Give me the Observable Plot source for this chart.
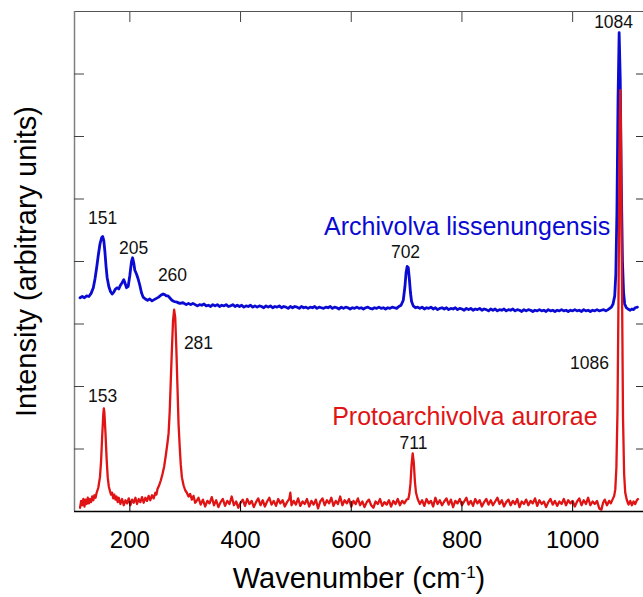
<!DOCTYPE html>
<html>
<head>
<meta charset="utf-8">
<script src="https://cdn.jsdelivr.net/npm/d3@7"></script>
<script src="https://cdn.jsdelivr.net/npm/@observablehq/plot@0.6"></script>
<style>
  html, body { margin: 0; padding: 0; background: #fff; }
  #chart svg { display: block; }
</style>
</head>
<body>
<div id="chart"></div>
<script>
// Archivolva lissenungensis spectrum: [wavenumber, intensity]
const blueSpectrum = [
  [110,3.42],[114,3.44],[118,3.42],[122,3.45],[126,3.44],[130,3.49],[134,3.58],[137,3.72],[140,3.9],[143,4.1],
  [146,4.28],[149,4.38],[151,4.40],[153,4.33],[155,4.15],[157,3.92],[159,3.74],[162,3.6],[165,3.52],[168,3.48],
  [171,3.51],[174,3.56],[177,3.58],[180,3.56],[183,3.62],[186,3.66],[189,3.71],[191,3.66],[194,3.58],[197,3.6],
  [200,3.78],[203,4.0],[205,4.06],[207,3.98],[209,3.86],[212,3.8],[215,3.72],[218,3.62],[221,3.5],[224,3.43],
  [228,3.4],[232,3.38],[236,3.4],[240,3.37],[244,3.39],[248,3.41],[252,3.43],[256,3.46],[260,3.48],[263,3.47],
  [266,3.45],[269,3.45],[272,3.42],[276,3.38],[280,3.36],[285,3.35],[290,3.33],[296,3.34],[302,3.31],[306,3.33],
  [310,3.31],[314,3.33],[318,3.31],[322,3.29],[326,3.31],[330,3.30],[334,3.32],[338,3.29],[342,3.30],[346,3.28],
  [350,3.31],[354,3.29],[358,3.31],[362,3.28],[366,3.30],[370,3.29],[374,3.31],[378,3.28],[382,3.29],[386,3.31],
  [390,3.28],[394,3.30],[398,3.28],[402,3.30],[406,3.27],[410,3.29],[414,3.28],[418,3.30],[422,3.27],[426,3.29],
  [430,3.27],[434,3.29],[438,3.28],[442,3.26],[446,3.29],[450,3.27],[454,3.29],[458,3.26],[462,3.28],[466,3.27],
  [470,3.29],[474,3.26],[478,3.28],[482,3.27],[486,3.25],[490,3.28],[494,3.26],[498,3.28],[502,3.27],[506,3.25],
  [510,3.28],[514,3.26],[518,3.27],[522,3.25],[526,3.27],[530,3.26],[534,3.28],[538,3.25],[542,3.27],[546,3.26],
  [550,3.25],[554,3.27],[558,3.26],[562,3.28],[566,3.25],[570,3.27],[574,3.26],[578,3.24],[582,3.27],[586,3.25],
  [590,3.27],[594,3.26],[598,3.24],[602,3.26],[606,3.25],[610,3.27],[614,3.25],[618,3.26],[622,3.24],[626,3.26],
  [630,3.27],[634,3.25],[638,3.24],[642,3.26],[646,3.25],[650,3.27],[654,3.25],[658,3.26],[662,3.24],[666,3.26],
  [670,3.25],[674,3.27],[678,3.26],[682,3.25],[686,3.28],[690,3.30],[694,3.38],[697,3.6],[699,3.82],[701,3.92],
  [703,3.9],[705,3.72],[707,3.5],[709,3.36],[712,3.29],[716,3.26],[720,3.27],[724,3.25],[728,3.27],[732,3.24],
  [736,3.26],[740,3.25],[744,3.27],[748,3.24],[752,3.26],[756,3.23],[760,3.25],[764,3.26],[768,3.24],[772,3.26],
  [776,3.23],[780,3.25],[784,3.24],[788,3.26],[792,3.23],[796,3.25],[800,3.24],[804,3.22],[808,3.25],[812,3.23],
  [816,3.25],[820,3.22],[824,3.24],[828,3.23],[832,3.25],[836,3.22],[840,3.24],[844,3.23],[848,3.21],[852,3.24],
  [856,3.22],[860,3.24],[864,3.21],[868,3.23],[872,3.22],[876,3.24],[880,3.21],[884,3.23],[888,3.22],[892,3.24],
  [896,3.21],[900,3.23],[904,3.22],[908,3.20],[912,3.23],[916,3.21],[920,3.23],[924,3.22],[928,3.20],[932,3.22],
  [936,3.21],[940,3.23],[944,3.21],[948,3.22],[952,3.20],[956,3.23],[960,3.21],[964,3.22],[968,3.20],[972,3.22],
  [976,3.21],[980,3.23],[984,3.21],[988,3.22],[992,3.20],[996,3.22],[1000,3.21],[1004,3.23],[1008,3.21],[1012,3.22],
  [1016,3.20],[1020,3.23],[1024,3.21],[1028,3.22],[1032,3.20],[1036,3.22],[1040,3.21],[1044,3.23],[1048,3.21],[1052,3.22],
  [1056,3.23],[1060,3.21],[1064,3.23],[1067,3.25],[1070,3.27],[1073,3.32],[1076,3.45],[1078,3.8],[1080,4.8],[1082,6.6],
  [1084,7.66],[1086,6.9],[1088,5.2],[1090,4.0],[1092,3.5],[1094,3.32],[1097,3.26],[1100,3.24],[1104,3.22],[1107,3.24],
  [1110,3.23],[1113,3.26],[1117,3.27]
];

// Protoarchivolva aurorae spectrum: [wavenumber, intensity]
const redSpectrum = [
  [110,0.06],[112,0.17],[114,0.1],[116,0.2],[118,0.08],[120,0.19],[122,0.12],[124,0.22],[126,0.13],[128,0.2],
  [130,0.15],[132,0.24],[134,0.18],[136,0.26],[138,0.22],[140,0.3],[143,0.38],[146,0.55],[148,0.8],[150,1.2],
  [152,1.55],[153,1.65],[154,1.58],[156,1.25],[158,0.85],[160,0.55],[162,0.4],[164,0.33],[166,0.27],[168,0.3],
  [170,0.21],[172,0.27],[174,0.19],[176,0.24],[178,0.15],[180,0.22],[183,0.12],[186,0.2],[189,0.1],[192,0.18],
  [195,0.13],[198,0.21],[201,0.1],[204,0.19],[207,0.14],[210,0.22],[213,0.12],[216,0.2],[219,0.15],[222,0.23],
  [225,0.14],[228,0.22],[231,0.17],[234,0.25],[237,0.18],[240,0.26],[243,0.21],[246,0.3],[248,0.27],[250,0.36],
  [253,0.42],[256,0.5],[259,0.6],[262,0.72],[265,0.9],[268,1.1],[270,1.25],[272,1.6],[274,2.1],[276,2.6],
  [278,3.05],[280,3.23],[282,3.1],[284,2.6],[286,2.0],[288,1.4],[290,1.05],[292,0.75],[294,0.55],[297,0.42],
  [300,0.34],[303,0.3],[306,0.24],[309,0.28],[312,0.19],[315,0.25],[318,0.14],[320,0.16],[324,0.22],[328,0.11],
  [332,0.19],[336,0.08],[340,0.17],[344,0.13],[348,0.23],[352,0.1],[356,0.18],[360,0.07],[364,0.15],[368,0.2],
  [372,0.09],[376,0.17],[380,0.12],[384,0.24],[388,0.1],[392,0.16],[396,0.06],[400,0.14],[404,0.19],[408,0.09],
  [412,0.2],[416,0.12],[420,0.17],[424,0.07],[428,0.15],[432,0.21],[436,0.1],[440,0.18],[444,0.08],[448,0.16],
  [452,0.22],[456,0.11],[460,0.17],[464,0.09],[468,0.2],[472,0.13],[476,0.18],[480,0.08],[484,0.15],[488,0.2],
  [490,0.3],[492,0.1],[496,0.17],[500,0.11],[504,0.21],[508,0.09],[512,0.16],[516,0.12],[520,0.2],[524,0.08],
  [528,0.17],[532,0.11],[536,0.19],[540,0.05],[544,0.16],[548,0.21],[552,0.1],[556,0.18],[560,0.13],[564,0.22],
  [568,0.09],[572,0.17],[576,0.12],[580,0.24],[584,0.1],[588,0.18],[592,0.13],[596,0.2],[600,0.08],[604,0.17],
  [608,0.12],[612,0.21],[616,0.1],[620,0.16],[624,0.07],[628,0.15],[632,0.19],[636,0.1],[640,0.06],[644,0.16],
  [648,0.12],[652,0.2],[656,0.09],[660,0.15],[664,0.11],[668,0.18],[672,0.08],[676,0.17],[680,0.12],[684,0.2],
  [688,0.1],[692,0.17],[696,0.13],[700,0.19],[703,0.2],[705,0.28],[707,0.45],[709,0.75],[711,0.93],[713,0.78],
  [715,0.48],[717,0.3],[720,0.2],[724,0.12],[728,0.18],[732,0.09],[736,0.2],[740,0.13],[744,0.17],[748,0.08],
  [752,0.22],[756,0.12],[760,0.18],[764,0.1],[768,0.16],[772,0.21],[776,0.11],[780,0.19],[784,0.07],[788,0.17],
  [792,0.13],[796,0.2],[800,0.1],[804,0.16],[808,0.22],[812,0.11],[816,0.17],[820,0.09],[824,0.2],[828,0.13],
  [832,0.18],[836,0.08],[840,0.15],[844,0.2],[848,0.11],[852,0.18],[856,0.1],[860,0.16],[864,0.22],[868,0.12],
  [872,0.18],[876,0.08],[880,0.15],[884,0.19],[888,0.1],[892,0.17],[896,0.12],[900,0.2],[904,0.07],[908,0.16],
  [912,0.12],[916,0.19],[920,0.1],[924,0.17],[928,0.13],[932,0.21],[936,0.09],[940,0.18],[944,0.12],[948,0.16],
  [952,0.07],[956,0.15],[960,0.2],[964,0.11],[968,0.17],[972,0.09],[976,0.16],[980,0.12],[984,0.2],[988,0.1],
  [992,0.18],[996,0.13],[1000,0.17],[1004,0.08],[1008,0.16],[1012,0.21],[1016,0.1],[1020,0.18],[1024,0.12],[1028,0.22],
  [1032,0.1],[1036,0.16],[1040,0.12],[1044,0.17],[1048,0.05],[1052,0.03],[1055,0.14],[1058,0.19],[1062,0.1],[1066,0.17],
  [1069,0.13],[1072,0.19],[1075,0.25],[1077,0.35],[1079,0.7],[1081,1.6],[1083,3.6],[1085,6.2],[1086,6.74],[1087,6.3],
  [1089,3.8],[1091,1.5],[1093,0.6],[1095,0.3],[1098,0.18],[1101,0.11],[1104,0.17],[1107,0.1],[1110,0.16],[1113,0.12],
  [1116,0.18],[1118,0.2]
];

// Peak annotations
const bluePeakLabels = ["151", "205", "260", "702", "1084"];
const bluePeakX = [150.7, 206.7, 277, 698, 1074];
const bluePeakY = [4.69, 4.21, 3.78, 4.14, 7.82];
const redPeakLabels = ["153", "281", "711", "1086"];
const redPeakX = [150.7, 324, 712.6, 1030.5];
const redPeakY = [1.84, 2.69, 1.09, 2.37];

// Species names
const speciesNames = ["Archivolva lissenungensis", "Protoarchivolva aurorae"];
const speciesX = [1068, 1045];
const speciesY = [4.55, 1.52];

// Axes
const xTicks = [200, 400, 600, 800, 1000];
const yTicks = [1, 2, 3, 4, 5, 6, 7];
const xDomain = [100, 1128];
const yDomain = [0, 8];
const xLabel = "Wavenumber (cm";
const xLabelSup = "-1";
const yLabel = "Intensity (arbitrary units)";

const blueColor = "#0a0ad2";
const redColor = "#e01414";

const blueRows = blueSpectrum.map(([x, y]) => ({x, y}));
const redRows = redSpectrum.map(([x, y]) => ({x, y}));
const bluePeaks = bluePeakLabels.map((t, i) => ({t, x: bluePeakX[i], y: bluePeakY[i]}));
const redPeaks = redPeakLabels.map((t, i) => ({t, x: redPeakX[i], y: redPeakY[i]}));
const species = speciesNames.map((t, i) => ({t, x: speciesX[i], y: speciesY[i], c: i === 0 ? blueColor : redColor}));

const chart = Plot.plot({
  width: 643,
  height: 597,
  marginLeft: 74,
  marginRight: 0,
  marginTop: 11,
  marginBottom: 86,
  style: {fontFamily: "'Liberation Sans', Arial, sans-serif", background: "#fff", color: "#000", overflow: "visible"},
  x: {domain: xDomain},
  y: {domain: yDomain},
  marks: [
    Plot.ruleY([yDomain[1]], {stroke: "#555", strokeWidth: 1.2}),
    Plot.ruleX([xDomain[0]], {stroke: "#808080", strokeWidth: 1.5}),
    Plot.axisX({anchor: "top", ticks: xTicks, tickSize: -10, tickFormat: () => "", label: null, stroke: "#444"}),
    Plot.axisY({anchor: "right", ticks: yTicks, tickSize: -8, tickFormat: () => "", label: null, stroke: "#333"}),
    Plot.axisY({anchor: "left", ticks: yTicks, tickSize: -10, tickFormat: () => "", stroke: "#444",
      label: yLabel, labelArrow: "none", labelAnchor: "center", labelOffset: 59}),
    Plot.line(blueRows, {x: "x", y: "y", stroke: blueColor, strokeWidth: 2.8, curve: "linear"}),
    Plot.line(redRows, {x: "x", y: "y", stroke: redColor, strokeWidth: 2.3, curve: "linear"}),
    Plot.ruleY([yDomain[0]], {stroke: "#000", strokeWidth: 1.3}),
    Plot.axisX({anchor: "bottom", ticks: xTicks, tickSize: -10, tickPadding: 29, fontSize: 24, stroke: "#000",
      tickFormat: d3.format("d"),
      label: xLabel, labelArrow: "none", labelAnchor: "center", labelOffset: 76}),
    Plot.text(bluePeaks, {x: "x", y: "y", text: "t", fontSize: 17.5, fill: "#111"}),
    Plot.text(redPeaks, {x: "x", y: "y", text: "t", fontSize: 17.5, fill: "#111"}),
    Plot.text(species, {x: "x", y: "y", text: "t", fill: "c", textAnchor: "end", fontSize: 25})
  ]
});

// Axis label typography: superscript for cm^-1, sizes, no arrows
const ns = "http://www.w3.org/2000/svg";
const xl = chart.querySelector('[aria-label="x-axis label"] text');
if (xl) {
  xl.setAttribute("font-size", "29");
  xl.textContent = "";
  const a = document.createElementNS(ns, "tspan"); a.textContent = xLabel;
  const b = document.createElementNS(ns, "tspan"); b.textContent = xLabelSup; b.setAttribute("dy", "-10"); b.setAttribute("font-size", "17");
  const c = document.createElementNS(ns, "tspan"); c.textContent = ")"; c.setAttribute("dy", "10");
  xl.append(a, b, c);
}
const yl = chart.querySelector('[aria-label="y-axis label"] text');
if (yl) {
  yl.setAttribute("font-size", "29");
  yl.textContent = yLabel;
}

document.getElementById("chart").appendChild(chart);
</script>
</body>
</html>
